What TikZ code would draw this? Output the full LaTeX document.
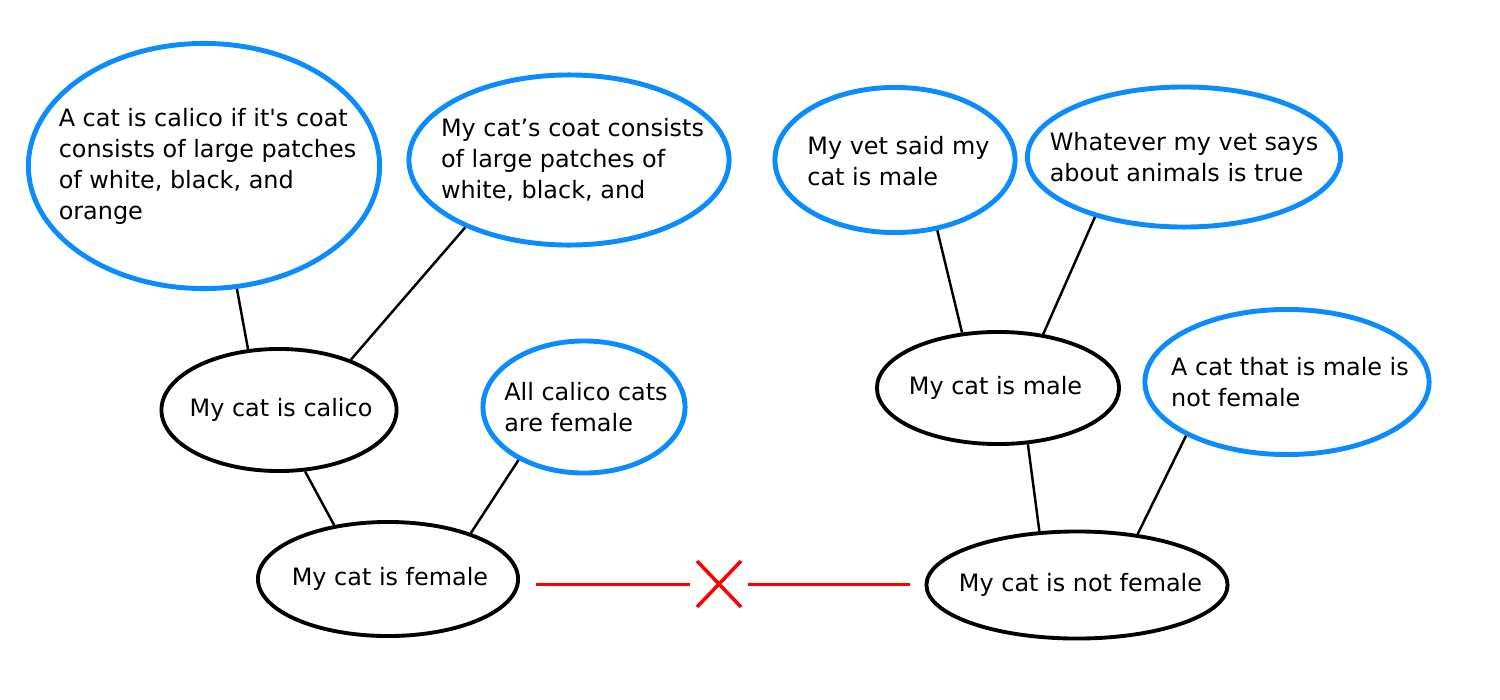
\documentclass[tikz,border=0pt]{standalone}
\usepackage{fontspec}
\setmainfont{DejaVu Sans}[Ligatures=TeXOff]
\usetikzlibrary{shapes.geometric}
\definecolor{skyblue}{RGB}{10,140,255}
\begin{document}
\begin{tikzpicture}[x=0.01cm,y=-0.01cm,
  every node/.style={font=\fontsize{6.8}{8.8}\selectfont},
  prem/.style={ellipse, draw=skyblue, line width=1.4pt, inner sep=0pt},
  concl/.style={ellipse, draw=black, line width=1.1pt, inner sep=0pt},
  txt/.style={inner sep=0pt, align=left},
  link/.style={draw=black, line width=0.7pt},
  redline/.style={draw=red, line width=0.85pt},
  redcross/.style={draw=red, line width=1pt}]
\useasboundingbox (0,0) rectangle (1500,700);

% premises (blue)
\node[prem, minimum width=3.51cm, minimum height=2.45cm] (calicodef) at (204,166) {};
\node[txt] (calicodef-t) at ([shift={(3.5,0)}]calicodef.center)
  {A cat is calico if it's coat\\consists of large patches\\of white, black, and\\orange};
\node[prem, minimum width=3.20cm, minimum height=1.70cm] (coat) at (569,160) {};
\node[txt] (coat-t) at ([shift={(3.5,0)}]coat.center)
  {My cat’s coat consists\\of large patches of\\white, black, and};
\node[prem, minimum width=2.40cm, minimum height=1.45cm] (vet) at (895,160) {};
\node[txt] (vet-t) at ([shift={(3.5,1.5)}]vet.center) {My vet said my\\cat is male};
\node[prem, minimum width=3.13cm, minimum height=1.40cm] (whatever) at (1184,157) {};
\node[txt] (whatever-t) at (whatever.center) {Whatever my vet says\\about animals is true};
\node[prem, minimum width=2.84cm, minimum height=1.45cm] (malenot) at (1287,382) {};
\node[txt] (malenot-t) at ([shift={(3,0)}]malenot.center) {A cat that is male is\\not female};
\node[prem, minimum width=2.02cm, minimum height=1.32cm] (allcalico) at (584,407) {};
\node[txt] (allcalico-t) at ([shift={(2,0)}]allcalico.center) {All calico cats\\are female};

% conclusions (black)
\node[concl, minimum width=2.35cm, minimum height=1.22cm] (calico) at (279,410) {};
\node[txt] (calico-t) at ([shift={(2,0)}]calico.center) {My cat is calico};
\node[concl, minimum width=2.60cm, minimum height=1.14cm] (female) at (388,579) {};
\node[txt] (female-t) at ([shift={(2,0)}]female.center) {My cat is female};
\node[concl, minimum width=2.42cm, minimum height=1.12cm] (male) at (998,388) {};
\node[txt] (male-t) at ([shift={(-2.5,0)}]male.center) {My cat is male};
\node[concl, minimum width=3.01cm, minimum height=1.07cm] (notfemale) at (1077,585) {};
\node[txt] (notfemale-t) at ([shift={(3.5,0)}]notfemale.center) {My cat is not female};

% connectors
\draw[link] (calicodef.-75.2) -- (calico.117);
\draw[link] (coat.213) -- (calico.35.8);
\draw[link] (calico.-67.1) -- (female.135);
\draw[link] (allcalico.219.8) -- (female.29.6);
\draw[link] (vet.-59.4) -- (male.123);
\draw[link] (whatever.214.3) -- (male.50.7);
\draw[link] (male.-62.6) -- (notfemale.125.1);
\draw[link] (malenot.208.1) -- (notfemale.40.4);

% contradiction
\coordinate (ra) at (536,584);
\coordinate (rb) at (690,584);
\coordinate (rc) at (748,584);
\coordinate (rd) at (910,584);
\coordinate (cross) at (719,584);
\draw[redline] (ra) -- (rb);
\draw[redline] (rc) -- (rd);
\draw[redcross] ([shift={(-22,-23)}]cross) -- ([shift={(22,23)}]cross);
\draw[redcross] ([shift={(-22,23)}]cross) -- ([shift={(22,-23)}]cross);
\end{tikzpicture}
\end{document}
